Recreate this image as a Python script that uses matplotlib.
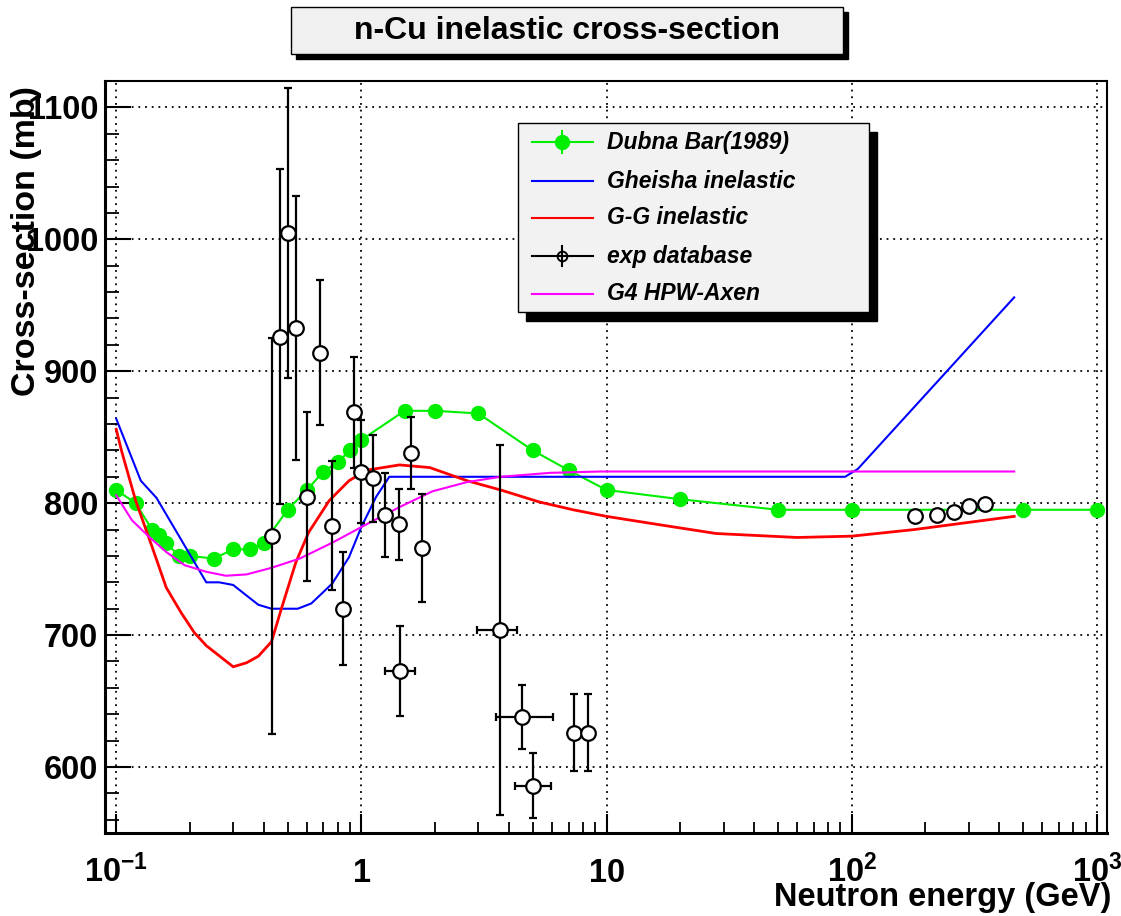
import numpy as np
import matplotlib
matplotlib.use("Agg")
import matplotlib.pyplot as plt
from matplotlib.patches import Rectangle
from matplotlib.lines import Line2D
from matplotlib.ticker import LogLocator, NullFormatter, MultipleLocator

plt.rcParams['font.family'] = ['Liberation Sans', 'DejaVu Sans']
plt.rcParams['font.weight'] = 'bold'
plt.rcParams['mathtext.fontset'] = 'custom'
plt.rcParams['mathtext.rm'] = 'Liberation Sans:bold'
plt.rcParams['mathtext.it'] = 'Liberation Sans:bold:italic'
plt.rcParams['mathtext.bf'] = 'Liberation Sans:bold'

W, H = 1121, 916

# Dubna Bar (1989) data
dubna_e = [0.1, 0.12, 0.14, 0.15, 0.16, 0.18, 0.2, 0.25, 0.3, 0.35, 0.4, 0.5, 0.6,
           0.7, 0.8, 0.9, 1.0, 1.5, 2.0, 3.0, 5.0, 7.0, 10, 20, 50, 100, 500, 1000]
dubna_xs = [810, 800, 780, 776, 770, 760, 760, 758, 765, 765, 770, 795, 810,
            824, 831, 840, 848, 870, 870, 868, 840, 825, 810, 803, 795, 795, 795, 795]

# Gheisha inelastic
gheisha_e = [0.1, 0.126, 0.146, 0.233, 0.263, 0.3, 0.34, 0.38, 0.43, 0.55, 0.625,
             0.76, 0.89, 1.0, 1.15, 1.3, 94, 106, 460]
gheisha_xs = [864, 817, 804, 740, 740, 738, 730, 723, 720, 720, 724,
              739, 759, 782, 805, 820, 820, 826, 956]

# G-G inelastic
gg_e = [0.1, 0.105, 0.12, 0.14, 0.16, 0.184, 0.208, 0.233, 0.3, 0.34, 0.38, 0.43,
        0.47, 0.54, 0.61, 0.74, 0.89, 1.05, 1.43, 1.9, 2.7, 3.7, 5.3, 7.3, 10,
        16, 28, 60, 100, 180, 460]
gg_xs = [856, 840, 802, 767, 736, 717, 702, 692, 676, 679, 684, 695,
         719, 755, 778, 802, 817, 825, 829, 827, 817, 810, 801, 795, 790,
         784, 777, 774, 775, 780, 790]

# G4 HPW-Axen
hpw_e = [0.1, 0.116, 0.137, 0.16, 0.19, 0.233, 0.28, 0.34, 0.43, 0.56, 0.76,
         1.05, 1.43, 1.95, 2.7, 3.7, 5.9, 9.4, 460]
hpw_xs = [806, 787, 774, 763, 753, 748, 745, 746, 751, 758, 770,
          784, 797, 809, 816, 820, 823, 824, 824]

# exp database
exp_e = [0.43, 0.467, 0.504, 0.54, 0.6, 0.68, 0.76, 0.84, 0.93, 1.0, 1.12, 1.25,
         1.42, 1.44, 1.6, 1.77, 3.66, 4.54, 5.03, 7.4, 8.4, 182, 222, 261, 300, 350]
exp_xs = [775, 926, 1005, 933, 805, 914, 783, 720, 869, 824, 819, 791,
          784, 673, 838, 766, 704, 638, 586, 626, 626, 790, 791, 793, 798, 799]
exp_yerr = [150, 127, 110, 100, 64, 55, 49, 43, 42, 39, 33, 32,
            27, 34, 27, 41, 140, 24, 25, 29, 29, 0, 0, 0, 0, 0]
exp_xerr_lo = [0, 0, 0, 0, 0, 0, 0, 0, 0, 0, 0, 0,
               0, 0.19, 0, 0, 0.71, 0.99, 0.78, 0, 0, 0, 0, 0, 0, 0]
exp_xerr_hi = [0, 0, 0, 0, 0, 0, 0, 0, 0, 0, 0, 0,
               0, 0.21, 0, 0, 0.67, 1.53, 0.93, 0, 0, 0, 0, 0, 0, 0]

legend_labels = ['Dubna Bar(1989)', 'Gheisha inelastic', 'G-G inelastic',
                 'exp database', 'G4 HPW-Axen']


def fpos(x, y):
    return x / W, 1 - y / H


fig = plt.figure(figsize=(W / 100, H / 100), dpi=100)
ax = fig.add_axes([105 / W, 1 - 833 / H, (1107 - 105) / W, (833 - 81) / H])

ax.plot(dubna_e, dubna_xs, color='#00ee00', lw=1.5, marker='o', ms=10,
        mfc='#00ee00', mec='#00ee00', zorder=3)
ax.plot(gheisha_e, gheisha_xs, color='#0000ff', lw=1.5, zorder=4)
ax.plot(gg_e, gg_xs, color='#ff0000', lw=2.0, zorder=4)
ax.plot(hpw_e, hpw_xs, color='#ff00ff', lw=1.5, zorder=4)
ax.errorbar(exp_e, exp_xs, yerr=exp_yerr, xerr=[exp_xerr_lo, exp_xerr_hi],
            fmt='o', ms=10.5, mfc='white', mec='black', mew=1.6,
            ecolor='black', elinewidth=1.6, capsize=3, capthick=1.6, zorder=5)

ax.set_xscale('log')
ax.set_xlim(0.09, 1100)
ax.set_ylim(550, 1120)

ax.set_xticks([0.1, 1, 10, 100, 1000])
ax.set_xticklabels([r'$10^{-1}$', r'$1$', r'$10$', r'$10^{2}$', r'$10^{3}$'])
ax.xaxis.set_minor_locator(LogLocator(base=10, subs=np.arange(2, 10)))
ax.xaxis.set_minor_formatter(NullFormatter())
ax.yaxis.set_major_locator(MultipleLocator(100))
ax.yaxis.set_minor_locator(MultipleLocator(20))

ax.tick_params(axis='x', which='major', direction='in', length=14, width=1.5,
               labelsize=23.5, pad=35)
ax.tick_params(axis='x', which='minor', direction='in', length=8, width=1.3)
ax.tick_params(axis='y', which='major', direction='in', length=19, width=1.5,
               labelsize=23.5, pad=5)
ax.tick_params(axis='y', which='minor', direction='in', length=10, width=1.3)
for lbl in ax.get_xticklabels():
    lbl.set_verticalalignment('baseline')

ax.grid(True, which='major', color='black', linestyle=(0, (1, 2.7)), lw=1.3)
ax.set_axisbelow(True)

ax.spines['left'].set_linewidth(2.2)
ax.spines['bottom'].set_linewidth(2.2)
ax.spines['top'].set_linewidth(1.5)
ax.spines['right'].set_linewidth(1.5)

# axis titles
fig.text(*fpos(27, 86), 'Cross-section (mb)', rotation=90, ha='center',
         va='top', fontsize=24.5, fontweight='bold')
fig.text(*fpos(1111, 906), 'Neutron energy (GeV)', ha='right', va='baseline',
         fontsize=23.5, fontweight='bold')

# title box with shadow
x0, y0 = fpos(296, 59)
fig.patches.append(Rectangle((x0, y0), (843 - 291) / W, 47 / H,
                             transform=fig.transFigure, fc='black', ec='black',
                             lw=1, zorder=1))
x0, y0 = fpos(291, 54)
fig.patches.append(Rectangle((x0, y0), (843 - 291) / W, 47 / H,
                             transform=fig.transFigure, fc='#f0f0f0', ec='black',
                             lw=1, zorder=2))
fig.text(*fpos(567, 31), 'n-Cu inelastic cross-section', ha='center',
         va='center', fontsize=23, fontweight='bold', zorder=3)

# legend box with shadow
x0, y0 = fpos(526, 321)
fig.patches.append(Rectangle((x0, y0), (869 - 518) / W, (312 - 123) / H,
                             transform=fig.transFigure, fc='black', ec='black',
                             lw=1, zorder=6))
x0, y0 = fpos(518, 312)
fig.patches.append(Rectangle((x0, y0), (869 - 518) / W, (312 - 123) / H,
                             transform=fig.transFigure, fc='#f2f2f2', ec='black',
                             lw=1, zorder=7))

entry_y = [142, 181, 218, 256, 294]
entry_col = ['#00ee00', '#0000ff', '#ff0000', 'black', '#ff00ff']
for i, (lab, ey, col) in enumerate(zip(legend_labels, entry_y, entry_col)):
    xa, ya = fpos(532, ey)
    xb, _ = fpos(593, ey)
    fig.add_artist(Line2D([xa, xb], [ya, ya], color=col, lw=1.5,
                          transform=fig.transFigure, zorder=8))
    xm, _ = fpos(562, ey)
    if i == 0:
        fig.add_artist(Line2D([xm, xm], [fpos(0, ey - 11)[1], fpos(0, ey + 11)[1]],
                              color=col, lw=1.5, transform=fig.transFigure, zorder=8))
        fig.add_artist(Line2D([xm], [ya], marker='o', ms=10, mfc=col, mec=col,
                              transform=fig.transFigure, zorder=9))
    if i == 3:
        fig.add_artist(Line2D([xm, xm], [fpos(0, ey - 10)[1], fpos(0, ey + 10)[1]],
                              color=col, lw=1.5, transform=fig.transFigure, zorder=8))
        fig.add_artist(Line2D([xm], [ya], marker='o', ms=7, mfc='none', mec=col,
                              mew=1.4, transform=fig.transFigure, zorder=9))
    fig.text(*fpos(607, ey), lab, ha='left', va='center', fontsize=16.5,
             fontweight='bold', fontstyle='italic', zorder=9)

fig.savefig('out.png', dpi=100)
